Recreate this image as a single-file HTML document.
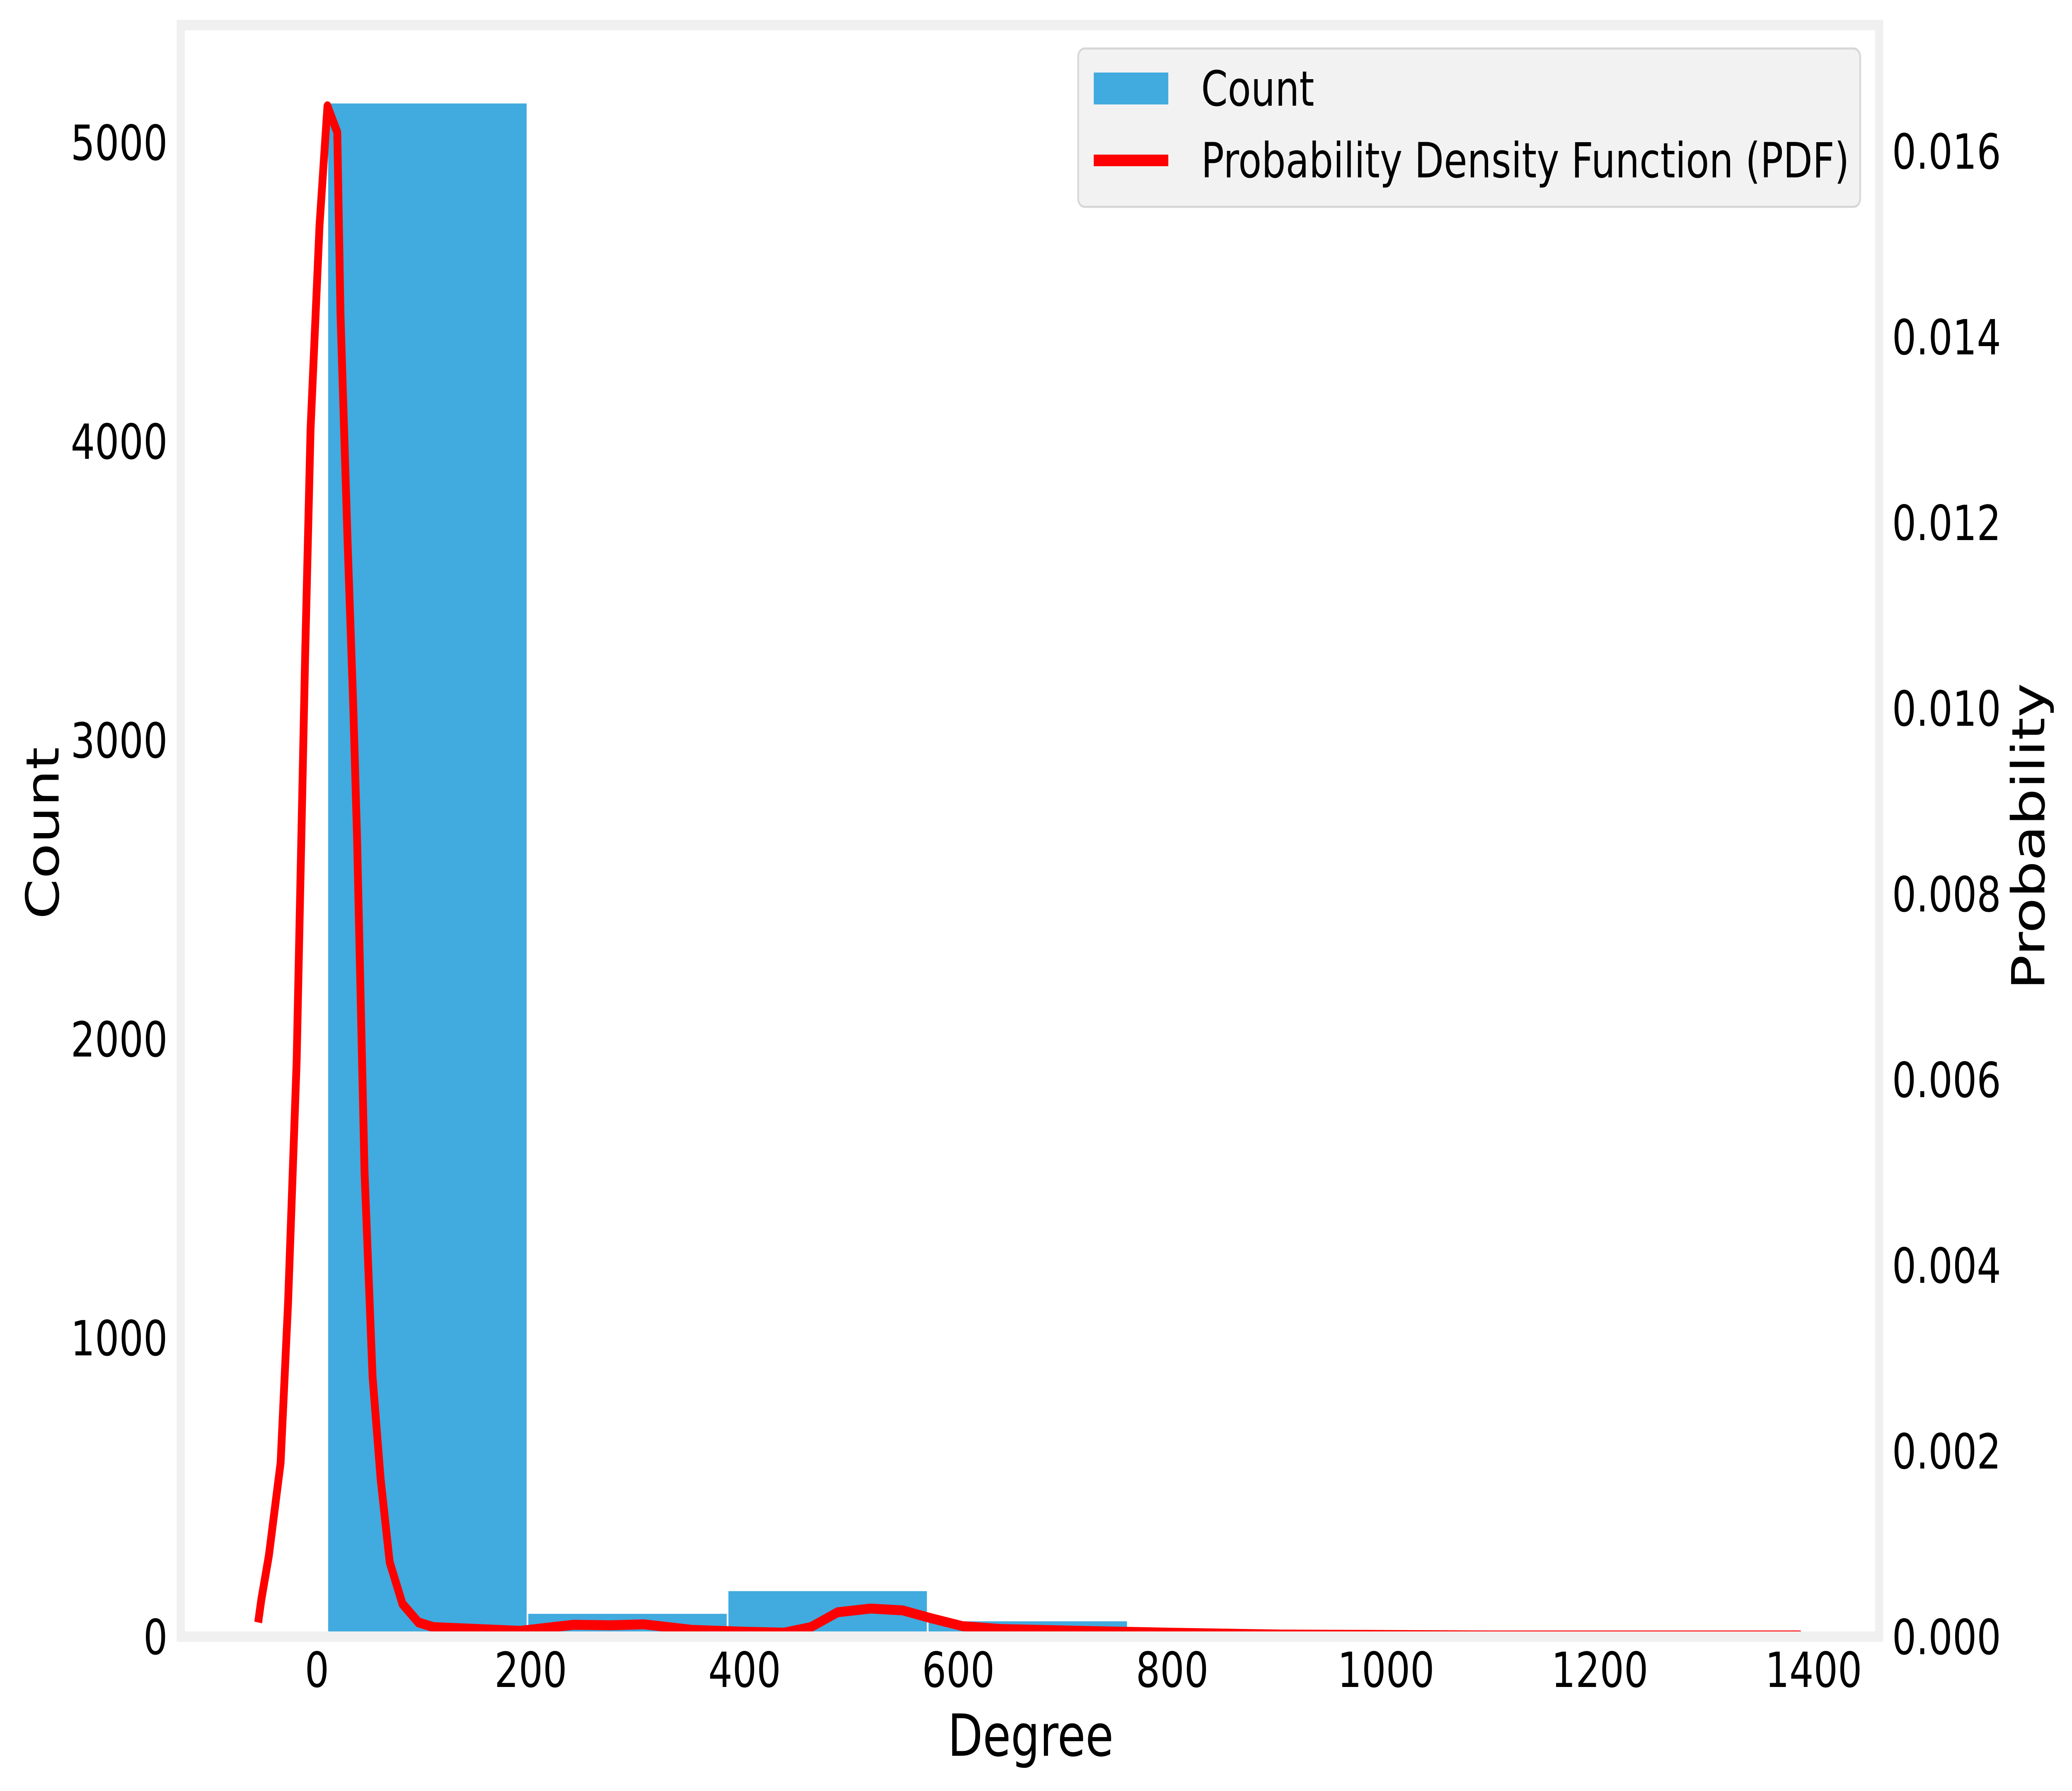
<!DOCTYPE html>
<html><head><meta charset="utf-8"><style>
html,body{margin:0;padding:0;background:#fff;overflow:hidden;width:100%;height:100%;}
svg{display:block;width:100vw;height:100vh;font-family:"DejaVu Sans","Liberation Sans",sans-serif;}
</style></head><body>
<svg id="chart" viewBox="0 0 6367 4321" preserveAspectRatio="none" xmlns="http://www.w3.org/2000/svg">
<rect x="0" y="0" width="6367" height="4321" fill="#fff"/>
<g id="bars"></g>
<g id="pdf"></g>
<rect x="555.5" y="60.5" width="5219" height="3888" fill="none" stroke="#f0f0f0" stroke-width="25"/>
<g id="xticks"></g>
<g id="yticks"></g>
<g id="y2ticks"></g>
<text x="3167" y="4236" font-size="140" text-anchor="middle">Degree</text>
<text transform="translate(180,2010) rotate(-90)" font-size="140" text-anchor="middle">Count</text>
<text transform="translate(6282,2018) rotate(-90)" font-size="140" text-anchor="middle">Probability</text>
<g>
<rect x="3313" y="117" width="2403" height="382" rx="20" fill="#f2f2f2" stroke="#d6d6d6" stroke-width="5"/>
<rect x="3361" y="175" width="229" height="77" fill="#41aade"/>
<text x="3691" y="255" font-size="117">Count</text>
<line x1="3361" y1="387" x2="3590" y2="387" stroke="#ff0000" stroke-width="28"/>
<text x="3691" y="428" font-size="117">Probability Density Function (PDF)</text>
</g>
</svg>
<script>
const binStart = 9.7;
const binWidth = 187.2;
const counts = [5133, 79, 155, 54, 5, 2, 1];
const pdfX = [-55,-52,-45,-34,-27,-19,-11,-6,2.4,9.8,19,22,28.6,34,37.5,44.5,52,59.5,68,80,95,109,150,190,240,275,306,351,400,437,462,487,518,548,573,604,639,715,795,900,1000,1100,1200,1300,1388];
const pdfY = [0.00015,0.0004,0.00087,0.00187,0.0036,0.0062,0.0106,0.013,0.0152,0.01648,0.0162,0.01424,0.0118,0.0100,0.0086,0.005,0.0028,0.0017,0.0008,0.00035,0.00015,0.0001,0.00008,0.00006,0.000125,0.00012,0.00013,0.00007,0.00005,0.00004,0.0001,0.00026,0.0003,0.00028,0.0002,0.00011,0.00008,0.00006,0.00004,0.00002,0.000015,0.00001,0.00001,0.00001,0.00001];
const xTicks = [0,200,400,600,800,1000,1200,1400];
const yTicks = [0,1000,2000,3000,4000,5000];
const y2Ticks = [0,0.002,0.004,0.006,0.008,0.010,0.012,0.014,0.016];

const NS = "http://www.w3.org/2000/svg";
function xs(d){return 974 + d*3.285;}
function yc(c){return 3948 - c*0.721;}
function yp(p){return 3948 - p*224000;}
function mk(tag, attrs, parent){const e=document.createElementNS(NS,tag);for(const k in attrs)e.setAttribute(k,attrs[k]);parent.appendChild(e);return e;}

const gb=document.getElementById('bars');
counts.forEach((c,i)=>{
  const x0=xs(binStart+i*binWidth), x1=xs(binStart+(i+1)*binWidth);
  const r=mk('rect',{x:x0,y:yc(c),width:x1-x0,height:yc(0)-yc(c),fill:'#41aade',stroke:'#fff','stroke-width':5},gb);
  
  
});
const gp=document.getElementById('pdf');
const pts=pdfX.map((d,i)=>xs(d).toFixed(1)+','+yp(pdfY[i]).toFixed(1)).join(' ');
const pl=mk('polyline',{points:pts,fill:'none',stroke:'#ff0000','stroke-width':24,'stroke-linejoin':'round'},gp);



const gx=document.getElementById('xticks');
xTicks.forEach(v=>{
  const t=mk('text',{x:xs(v),y:4070,'font-size':117,'text-anchor':'middle'},gx);
  t.textContent=String(v);
  
  
});
const gy=document.getElementById('yticks');
yTicks.forEach(v=>{
  const t=mk('text',{x:515,y:yc(v)+43,'font-size':117,'text-anchor':'end'},gy);
  t.textContent=String(v);
  
  
});
const gy2=document.getElementById('y2ticks');
y2Ticks.forEach(v=>{
  const t=mk('text',{x:5814,y:yp(v)+43,'font-size':117,'text-anchor':'start'},gy2);
  t.textContent=v.toFixed(3);
  
  
});
</script>
</body></html>
